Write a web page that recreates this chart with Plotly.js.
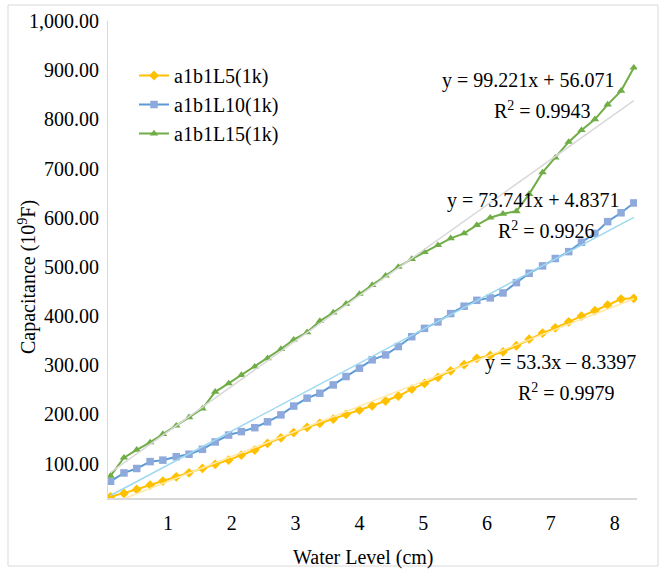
<!DOCTYPE html>
<html>
<head>
<meta charset="utf-8">
<script src="https://cdn.plot.ly/plotly-3.0.1.min.js"></script>
<style>html,body{margin:0;padding:0;background:#fff;}#chart{width:665px;height:569px;}</style>
</head>
<body>
<div id="chart"></div>
<script>
// Water level (cm)
const xLevel = [0.10,0.31,0.51,0.72,0.92,1.13,1.33,1.54,1.74,1.95,2.15,2.36,2.56,2.77,2.97,3.18,3.38,3.59,3.79,4.00,4.20,4.41,4.61,4.82,5.02,5.23,5.43,5.64,5.84,6.05,6.25,6.46,6.66,6.87,7.07,7.28,7.48,7.69,7.89,8.10,8.30];
// Capacitance series
const capL5 = [32.5,39.4,47.5,56.3,64.4,73.2,81.3,90.2,98.4,107,117.3,127.5,141,152.5,163,173.6,181.8,190.5,200,208.8,217.6,227,237.3,251.5,263,275.3,288.7,301,314,320,327,339.6,353,365.4,376,388.4,400,410.8,422.4,434.6,436];
const capL10 = [64,81,90,104,107,114,119,129,144,158,165,173,185,199,217,233,243,260,277,294,311,321,338,358,375,388,405,420,432,437,447,468,487,502,517,531,550,568,592,610,630];
const capL15 = [75,112,128,143,160,177,194,212,246,263,280,297,314,333,352,367,390,407,425,445,463,482,500,516,530,544,558,568,585,600,608,613,648,692,722,754,778,800,830,858,905];
const seriesNames = ["a1b1L5(1k)","a1b1L10(1k)","a1b1L15(1k)"];
const equations = ["y = 53.3x \u2013 8.3397","y = 73.741x + 4.8371","y = 99.221x + 56.071"];
const r2Labels = ["R<sup>2</sup> = 0.9979","R<sup>2</sup> = 0.9926","R<sup>2</sup> = 0.9943"];
const xTicks = [1,2,3,4,5,6,7,8];
const yTicks = [100,200,300,400,500,600,700,800,900,1000];
const xTitle = "Water Level (cm)";
const yTitle = "Capacitance (10<sup>9</sup>F)";

const lineColors = ["#FFC000","#5B9BD5","#70AD47"];
const markerColors = ["#FFC000","#8EA9DB","#70AD47"];
const markerSymbols = ["diamond","square","triangle-up"];
const trendColors = ["#FFE9A8","#9ED8F0","#D9D9D9"];
const allSeries = [capL5, capL10, capL15];

function fit(xs, ys){
  const n = xs.length;
  let sx=0, sy=0, sxx=0, sxy=0;
  for(let i=0;i<n;i++){sx+=xs[i];sy+=ys[i];sxx+=xs[i]*xs[i];sxy+=xs[i]*ys[i];}
  const m = (n*sxy - sx*sy)/(n*sxx - sx*sx);
  const b = (sy - m*sx)/n;
  return {m,b};
}

const font = "Liberation Serif, Times New Roman, serif";
const traces = [];
allSeries.forEach((ys, k) => {
  traces.push({
    x: xLevel, y: ys, type: "scatter", mode: "lines+markers", name: seriesNames[k],
    line: {color: lineColors[k], width: 2},
    marker: {color: markerColors[k], symbol: markerSymbols[k], size: 7.5}
  });
});
allSeries.forEach((ys, k) => {
  const f = fit(xLevel, ys);
  const xe = [xLevel[0], xLevel[xLevel.length-1]];
  traces.push({
    x: xe, y: xe.map(v => f.m*v + f.b), type: "scatter", mode: "lines",
    showlegend: false, hoverinfo: "skip",
    line: {color: trendColors[k], width: 1.5}
  });
});

// annotation placement (paper coords)
const W = 529, H = 477, L = 108, T = 21;
const px = v => (v - L)/W;
const py = v => 1 - (v - T)/H;
const eqPos = [[560,362,566,392],[533,200,546,230],[528,80,542,110]];
const tfont = {family:font,size:20,color:"#000"};
const annotations = [];
for(let k=0;k<3;k++){
  annotations.push({xref:"paper",yref:"paper",x:px(eqPos[k][0]),y:py(eqPos[k][1]),text:equations[k],showarrow:false,xanchor:"center",yanchor:"middle",font:tfont});
  annotations.push({xref:"paper",yref:"paper",x:px(eqPos[k][2]),y:py(eqPos[k][3]),text:r2Labels[k],showarrow:false,xanchor:"center",yanchor:"middle",font:tfont});
}
annotations.push({xref:"paper",yref:"paper",x:px(363),y:py(557),text:xTitle,showarrow:false,xanchor:"center",yanchor:"middle",font:tfont});
annotations.push({xref:"paper",yref:"paper",x:px(27),y:py(277),text:yTitle,textangle:-90,showarrow:false,xanchor:"center",yanchor:"middle",font:tfont});

const layout = {
  width: 665, height: 569,
  margin: {l: L, r: 28, t: T, b: 71},
  paper_bgcolor: "#fff", plot_bgcolor: "#fff",
  font: {family: font, size: 20, color: "#000"},
  showlegend: true,
  legend: {x: px(134), y: py(56), xanchor: "left", yanchor: "top", bgcolor: "rgba(0,0,0,0)", font: {family: font, size: 20, color: "#000"}, tracegroupgap: 0, itemwidth: 30},
  xaxis: {
    range: [0.06, 8.35], tickvals: xTicks, ticktext: xTicks.map(String),
    showgrid: false, zeroline: false, showline: true, linecolor: "#D9D9D9", linewidth: 2,
    ticks: "", ticklabelstandoff: 6
  },
  yaxis: {
    range: [30, 1000], tickvals: yTicks, tickformat: ",.2f",
    showgrid: false, zeroline: false, showline: true, linecolor: "#D9D9D9", linewidth: 1,
    ticks: "", ticklabelstandoff: 4
  },
  annotations: annotations,
  shapes: [{type:"rect", xref:"paper", yref:"paper", x0: px(8), x1: px(658), y0: py(566), y1: py(5), line:{color:"#D9D9D9", width:1}, fillcolor:"rgba(0,0,0,0)", layer:"below"}]
};

Plotly.newPlot("chart", traces, layout, {displayModeBar: false, staticPlot: true});
</script>
</body>
</html>
